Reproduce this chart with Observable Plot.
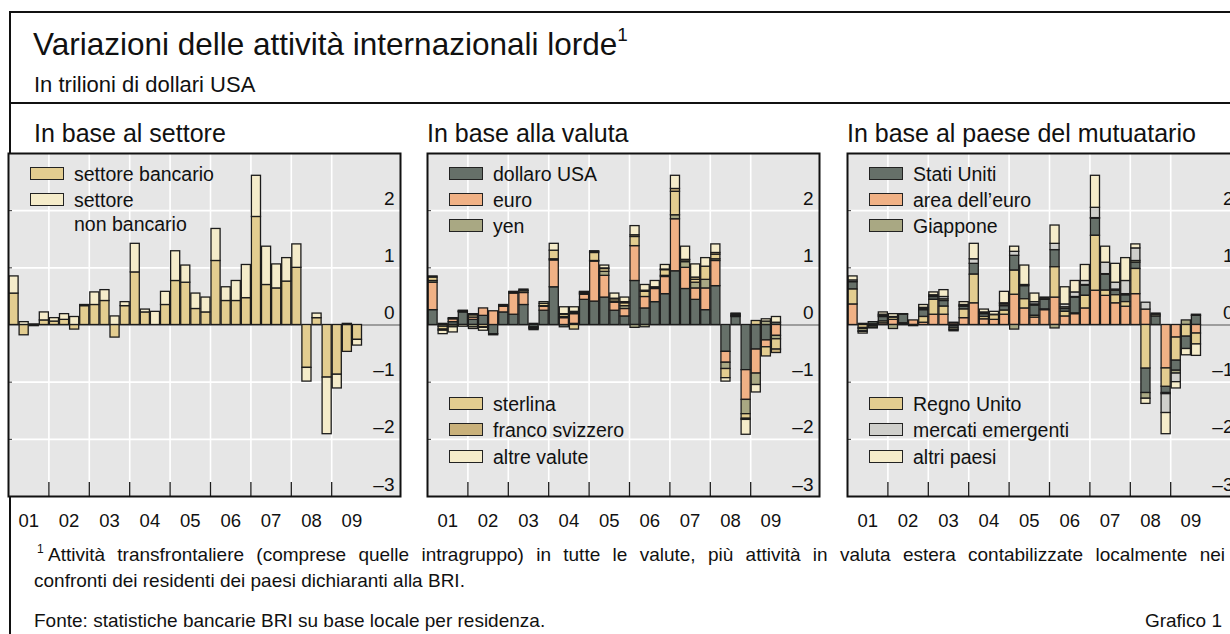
<!DOCTYPE html>
<html><head><meta charset="utf-8">
<script src="https://cdn.jsdelivr.net/npm/d3@7"></script>
<script src="https://cdn.jsdelivr.net/npm/@observablehq/plot@0.6"></script>
<style>
body{margin:0;background:#fff;font-family:"Liberation Sans",Arial,sans-serif;color:#111;}
#page{position:relative;width:1230px;height:634px;overflow:hidden;}
.abs{position:absolute;white-space:nowrap;line-height:1;}
.line{position:absolute;background:#111;}
.sw{position:absolute;width:32px;height:11px;border:1.3px solid #222;}
.plot{position:absolute;top:145px;}
sup{font-size:60%;vertical-align:0;position:relative;top:-0.75em;}
</style></head>
<body><div id="page"></div>
<script>
// ---- categories ----
const quarters = ["2001Q1","2001Q2","2001Q3","2001Q4","2002Q1","2002Q2","2002Q3","2002Q4",
  "2003Q1","2003Q2","2003Q3","2003Q4","2004Q1","2004Q2","2004Q3","2004Q4",
  "2005Q1","2005Q2","2005Q3","2005Q4","2006Q1","2006Q2","2006Q3","2006Q4",
  "2007Q1","2007Q2","2007Q3","2007Q4","2008Q1","2008Q2","2008Q3","2008Q4",
  "2009Q1","2009Q2","2009Q3"];
const yearBounds = [2002,2003,2004,2005,2006,2007,2008,2009];
const yearMid = [2001.5,2002.5,2003.5,2004.5,2005.5,2006.5,2007.5,2008.5,2009.5];
const yearLabels = ["01","02","03","04","05","06","07","08","09"];
const yTicks = [-3,-2,-1,0,1,2];
const yGrid = [-2,-1,1,2];

// ---- panel 1: by sector (trillions USD) ----
const settoreBancario = [0.55,-0.18,-0.02,0.08,0.06,0.09,-0.08,0.33,0.35,0.42,-0.22,0.33,0.92,0.22,0.00,0.35,0.77,0.74,0.28,0.22,1.12,0.42,0.42,0.47,1.89,0.70,0.64,0.76,1.00,-0.75,0.12,-0.92,-0.87,-0.47,-0.26];
const settoreNonBancario = [0.30,0.05,0.01,0.14,0.06,0.10,0.14,0.02,0.22,0.19,0.15,0.07,0.50,0.05,0.23,0.23,0.52,0.30,0.27,0.26,0.56,0.24,0.35,0.58,0.72,0.67,0.42,0.41,0.41,-0.24,0.08,-0.99,-0.24,0.02,-0.10];

// ---- panel 2: by currency ----
const dollaroUSA = [0.26,0.02,0.05,0.22,0.09,0.16,-0.16,0.22,0.18,0.35,-0.04,0.25,0.66,-0.04,0.02,0.44,0.41,0.48,0.25,0.15,0.77,0.29,0.40,0.54,0.94,0.63,0.44,0.26,0.68,-0.47,0.14,-0.79,-0.43,-0.27,0.04];
const euro = [0.48,0.00,0.05,0.01,0.04,0.13,0.24,0.10,0.37,0.21,0.00,0.07,0.47,0.12,0.17,0.09,0.70,0.38,0.14,0.13,0.61,0.20,0.23,0.30,0.91,0.37,0.20,0.38,0.44,-0.19,0.01,-0.52,-0.42,-0.12,-0.19];
const yen = [0.03,-0.03,0.02,0.01,-0.04,0.00,0.00,0.01,0.00,0.00,-0.01,0.01,0.02,0.02,0.02,0.01,0.01,0.07,0.02,0.05,-0.05,-0.04,0.01,0.02,0.07,0.10,0.10,0.15,0.03,-0.11,0.01,-0.25,-0.20,0.06,-0.06];
const sterlina = [0.06,-0.05,-0.03,0.01,0.04,-0.04,0.00,0.02,0.02,0.03,-0.02,0.04,0.15,0.04,-0.08,0.02,0.14,0.05,0.04,0.05,0.16,0.09,0.02,0.10,0.41,0.03,0.05,0.23,0.08,-0.16,0.01,-0.08,0.07,-0.16,-0.18];
const francoSvizzero = [0.00,-0.02,-0.01,0.00,0.02,-0.01,0.00,0.00,0.00,0.01,-0.02,0.00,0.00,0.01,0.02,0.01,0.02,0.01,0.01,0.02,0.03,0.02,0.00,0.01,0.05,0.01,0.04,0.00,0.03,0.00,0.02,-0.02,0.00,0.00,-0.06];
const altreValute = [0.02,-0.06,-0.09,-0.03,-0.03,-0.05,-0.02,0.00,0.01,0.02,0.02,0.03,0.12,0.12,0.08,0.01,0.01,0.05,0.09,0.08,0.16,0.10,0.11,0.08,0.23,0.23,0.23,0.15,0.15,-0.06,0.01,-0.26,-0.13,0.04,0.10];

// ---- panel 3: by borrower country ----
const statiUniti = [0.13,-0.02,0.04,0.08,0.00,0.15,0.00,0.12,0.05,0.10,-0.04,0.05,0.19,0.05,0.00,0.08,0.26,0.23,0.18,0.17,0.30,0.05,0.28,0.18,0.30,0.28,0.08,0.12,0.11,-0.43,0.15,-0.11,-0.18,-0.22,0.16];
const areaEuro = [0.36,0.02,0.01,0.03,0.09,0.02,0.08,0.04,0.18,0.18,0.03,0.12,0.38,0.10,0.09,0.18,0.53,0.29,0.13,0.26,0.48,0.15,0.19,0.29,0.60,0.51,0.38,0.32,0.54,0.27,0.00,-0.76,-0.22,0.00,-0.15];
const giappone = [0.00,-0.04,-0.03,0.02,-0.07,0.00,0.00,0.02,0.01,0.03,-0.03,0.01,0.00,0.02,0.01,0.03,-0.08,0.02,0.02,0.01,-0.06,0.03,0.01,0.01,0.01,0.01,0.02,0.02,0.03,-0.10,0.03,-0.02,-0.05,0.08,0.00];
const regnoUnito = [0.26,-0.05,-0.02,0.03,0.04,0.01,-0.02,0.10,0.26,0.14,-0.02,0.15,0.50,0.04,0.08,0.07,0.42,0.16,0.03,0.01,0.53,0.08,0.01,0.22,0.96,0.09,0.14,0.08,0.44,-0.76,0.00,-0.32,-0.40,-0.20,-0.19];
const mercatiEmergenti = [0.03,-0.01,-0.01,0.02,0.01,0.00,0.00,0.02,0.02,0.04,-0.02,0.02,0.08,0.01,0.00,0.02,0.07,0.00,0.04,0.01,0.11,0.05,0.08,0.07,0.18,0.20,0.12,0.23,0.22,0.12,0.02,-0.33,-0.15,0.00,0.02];
const altriPaesi = [0.07,-0.03,0.00,0.04,0.05,0.01,0.00,0.05,0.05,0.12,0.01,0.05,0.27,0.05,0.05,0.20,0.09,0.34,0.15,0.02,0.32,0.30,0.20,0.28,0.56,0.28,0.33,0.40,0.07,-0.09,0.00,-0.37,-0.11,-0.11,-0.20];

// ---- colours ----
const C = {tan:"#e3cd90", cream:"#f5ecca", dark:"#667069", salmon:"#f0b185", olive:"#a9a883", franc:"#c9b17b", gray:"#cfcfcb"};

const panels = [
  {left: 0, titleLeft: 34, title: "In base al settore",
   series: [["settore bancario", settoreBancario, C.tan], ["settore non bancario", settoreNonBancario, C.cream]],
   order: ["settore bancario", "settore non bancario"],
   legendTop: [["settore bancario", C.tan], ["settore", C.cream, "non bancario"]], legendBottom: []},
  {left: 419, titleLeft: 427, title: "In base alla valuta",
   series: [["dollaro USA", dollaroUSA, C.dark], ["euro", euro, C.salmon], ["yen", yen, C.olive],
            ["sterlina", sterlina, C.tan], ["franco svizzero", francoSvizzero, C.franc], ["altre valute", altreValute, C.cream]],
   order: ["dollaro USA", "euro", "yen", "sterlina", "franco svizzero", "altre valute"],
   legendTop: [["dollaro USA", C.dark], ["euro", C.salmon], ["yen", C.olive]],
   legendBottom: [["sterlina", C.tan], ["franco svizzero", C.franc], ["altre valute", C.cream]]},
  {left: 839, titleLeft: 847, title: "In base al paese del mutuatario",
   series: [["Stati Uniti", statiUniti, C.dark], ["area dell’euro", areaEuro, C.salmon], ["Giappone", giappone, C.olive],
            ["Regno Unito", regnoUnito, C.tan], ["mercati emergenti", mercatiEmergenti, C.gray], ["altri paesi", altriPaesi, C.cream]],
   order: ["area dell’euro", "Regno Unito", "Stati Uniti", "Giappone", "mercati emergenti", "altri paesi"],
   legendTop: [["Stati Uniti", C.dark], ["area dell’euro", C.salmon], ["Giappone", C.olive]],
   legendBottom: [["Regno Unito", C.tan], ["mercati emergenti", C.gray], ["altri paesi", C.cream]]}
];

const page = document.getElementById("page");
function add(html, css, cls = "abs") {
  const d = document.createElement("div");
  d.className = cls; d.innerHTML = html; d.style.cssText = css; page.appendChild(d); return d;
}
// frame lines
add("", "left:9px;top:11px;width:1230px;height:2px;", "line");
add("", "left:9px;top:11px;width:2px;height:630px;", "line");
add("", "left:9px;top:102px;width:1230px;height:2px;", "line");
// titles
add("Variazioni delle attività internazionali lorde<sup>1</sup>", "left:33px;top:29px;font-size:31.5px;");
add("In trilioni di dollari USA", "left:34px;top:74px;font-size:22px;");

const toT = q => +q.slice(0, 4) + (+q.slice(5) - 1) / 4;
const fmtY = d => d < 0 ? "\u2013" + Math.abs(d) : String(d);
const fmtX = d => yearLabels[yearMid.indexOf(d)];

const W = 412, H = 395, mT = 8, mB = 44, mL = 8, mR = 12;
const frameH = H - mT - mB, frameW = W - mL - mR;

for (const p of panels) {
  add(p.title, `left:${p.titleLeft}px;top:121px;font-size:25px;`);
  const data = p.series.flatMap(([key, vals]) => vals.map((v, i) => ({t: toT(quarters[i]), v, key})));
  const chart = Plot.plot({
    width: W, height: H, marginLeft: mL, marginRight: mR, marginTop: mT, marginBottom: mB,
    x: {domain: [2001, 2001 + frameW / 40.4]},
    y: {domain: [-3, 3]},
    color: {domain: p.series.map(s => s[0]), range: p.series.map(s => s[2])},
    style: {fontFamily: "'Liberation Sans', Arial, sans-serif", fontSize: "18px", color: "#111", background: "transparent", overflow: "visible"},
    marks: [
      Plot.frame({fill: "#e6e6e6", stroke: null}),
      Plot.gridX(yearBounds, {stroke: "#fff", strokeOpacity: 1, strokeWidth: 1.6}),
      Plot.gridY(yGrid, {stroke: "#fff", strokeOpacity: 1, strokeWidth: 1.6}),
      Plot.ruleY(yGrid, {insetRight: frameW - 4, stroke: "#333", strokeWidth: 1}),
      Plot.ruleY([0], {stroke: "#555", strokeWidth: 1.2}),
      Plot.rectY(data, {x: "t", interval: 0.25, y: "v", fill: "key", stroke: "#1c1c1c", strokeWidth: 1.3, order: p.order}),
      Plot.ruleX(yearBounds, {insetTop: frameH - 14, stroke: "#1c1c1c", strokeWidth: 1.3}),
      Plot.axisX(yearMid, {anchor: "bottom", label: null, tickSize: 0, tickPadding: 17, tickFormat: fmtX, fontSize: 18.5, fill: "#111"}),
      Plot.axisY(yTicks, {anchor: "right", label: null, tickSize: 0, tickPadding: 0, textAnchor: "end", dx: -6, dy: -12, lineAnchor: "middle", tickFormat: fmtY, fontSize: 19, fill: "#111"}),
      Plot.frame({stroke: "#111", strokeWidth: 2})
    ]
  });
  chart.classList.add("plot");
  chart.style.left = p.left + "px";
  page.appendChild(chart);
  // legends
  const lx = p.left + mL + 22;
  const rowsTop = [174, 200, 226], rowsBottom = [404, 430, 457];
  p.legendTop.forEach(([lab, col, lab2], i) => {
    add("", `left:${lx}px;top:${rowsTop[i] - 7}px;background:${col};`, "sw");
    add(lab, `left:${lx + 44}px;top:${rowsTop[i] - 9}px;font-size:19.5px;`);
    if (lab2) add(lab2, `left:${lx + 44}px;top:${rowsTop[i] + 15}px;font-size:19.5px;`);
  });
  p.legendBottom.forEach(([lab, col], i) => {
    add("", `left:${lx}px;top:${rowsBottom[i] - 7}px;background:${col};`, "sw");
    add(lab, `left:${lx + 44}px;top:${rowsBottom[i] - 9}px;font-size:19.5px;`);
  });
}

// footnotes
add("1", "left:37px;top:543px;font-size:12px;");
add("Attività transfrontaliere (comprese quelle intragruppo) in tutte le valute, più attività in valuta estera contabilizzate localmente nei",
    "left:48px;top:545px;width:1177px;font-size:19px;text-align:justify;text-align-last:justify;white-space:normal;");
add("confronti dei residenti dei paesi dichiaranti alla BRI.", "left:34px;top:571px;font-size:19px;");
add("Fonte: statistiche bancarie BRI su base locale per residenza.", "left:34px;top:611px;font-size:19px;");
add("Grafico 1", "right:8px;top:611px;font-size:19px;");
</script>
</body></html>
